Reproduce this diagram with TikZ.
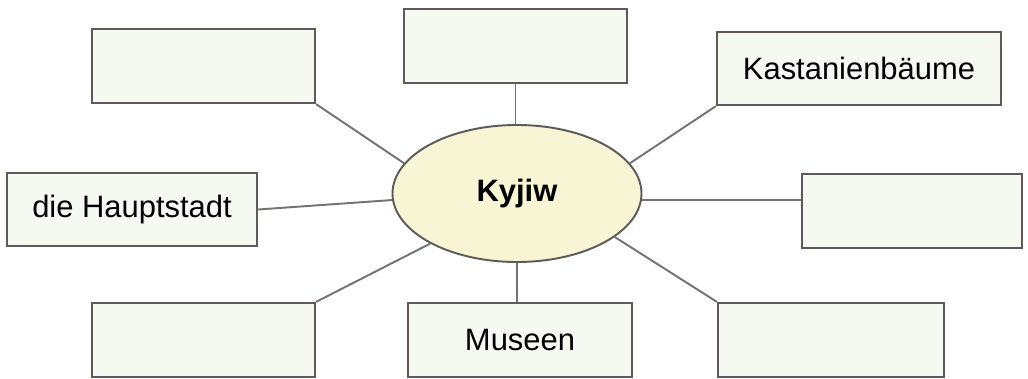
\documentclass[tikz,border=0pt]{standalone}
\usepackage{fontspec}
\setmainfont{Liberation Sans}
\usepackage{tikz}
\usepackage{xcolor}
\usetikzlibrary{shapes.geometric}
\definecolor{feldrand}{RGB}{95,90,88}
\definecolor{feldgrund}{RGB}{246,249,242}
\definecolor{kreisgrund}{RGB}{247,245,212}
\definecolor{linie}{RGB}{115,115,113}
\tikzset{
  feld/.style={rectangle,draw=feldrand,fill=feldgrund,line width=1.3pt,inner sep=0pt},
  mitte/.style={ellipse,draw=feldrand,fill=kreisgrund,line width=1.1pt,inner sep=0pt,minimum width=4.98cm,minimum height=2.74cm},
  verb/.style={draw=linie,line width=1.1pt}
}

\begin{document}
\begin{tikzpicture}[font=\fontsize{17.6}{21}\selectfont]
	\useasboundingbox[fill=white] (0,0) rectangle (20.56,7.56);
	\node[mitte] (k) at (10.34,3.69){\textbf{Kyjiw}};

	\node[feld,minimum width=4.46cm,minimum height=1.48cm] (lo) at (4.07,6.24){};
	\node[feld,minimum width=4.46cm,minimum height=1.48cm] (mo) at (10.31,6.64){};
	\node[feld,minimum width=5.68cm,minimum height=1.46cm] (ro) at (17.18,6.19){Kastanienbäume};
	\node[feld,minimum width=5.00cm,minimum height=1.46cm] (lm) at (2.64,3.37){die Hauptstadt};
	\node[feld,minimum width=4.40cm,minimum height=1.48cm] (rm) at (18.24,3.34){};
	\node[feld,minimum width=4.46cm,minimum height=1.48cm] (lu) at (4.07,0.76){};
	\node[feld,minimum width=4.48cm,minimum height=1.48cm] (mu) at (10.40,0.76){Museen};
	\node[feld,minimum width=4.52cm,minimum height=1.48cm] (ru) at (16.62,0.76){};

	\draw[verb] (lo.south east) to (k.165);
	\draw[verb] (mo.south) to (mo.south |- k.north);
	\draw[verb] (ro.south west) to (k.15);
	\draw[verb] (lm.east) to (k.183);
	\draw[verb] (k.-3) to (k.-3 -| rm.west);
	\draw[verb] (lu.north east) to (k.210);
	\draw[verb] (k.south) to (k.south |- mu.north);
	\draw[verb] (ru.north west) to (k.-24);
\end{tikzpicture}
\end{document}
